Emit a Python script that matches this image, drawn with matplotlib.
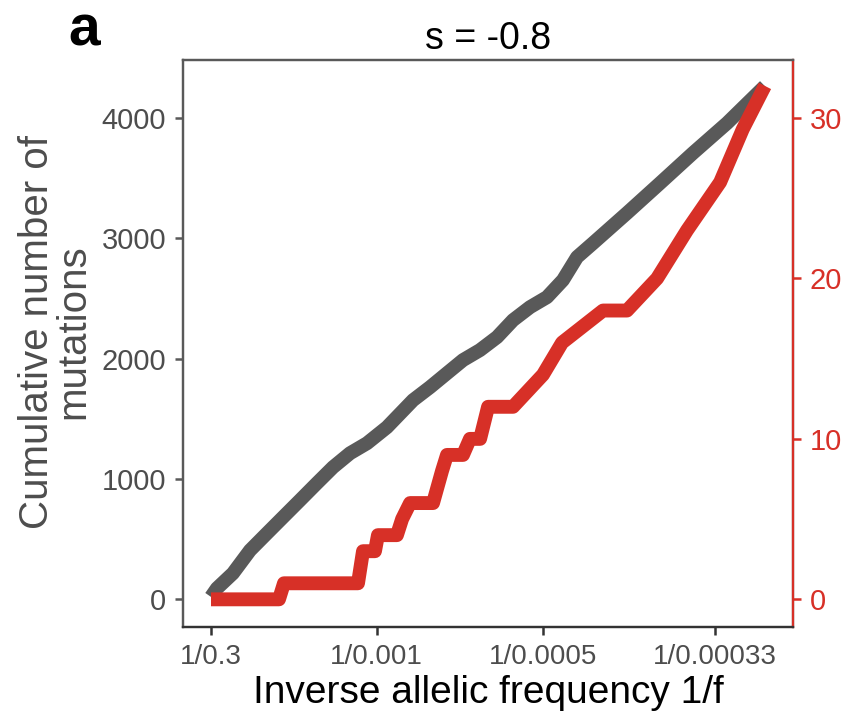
import matplotlib
matplotlib.use("Agg")
import matplotlib.pyplot as plt
import numpy as np

plt.rcParams['font.family'] = ['Liberation Sans', 'DejaVu Sans']

# ---- data ----
grey_x = [3.33, 39, 135, 238, 340, 436, 538, 640, 737, 839, 941, 1061, 1218, 1320,
          1422, 1518, 1620, 1723, 1819, 1921, 2023, 2119, 2204, 2300, 2504, 2703,
          2901, 3106, 3333]
grey_y = [20, 91, 216, 407, 549, 682, 823, 965, 1098, 1214, 1297, 1430, 1655, 1763,
          1879, 1988, 2071, 2179, 2320, 2428, 2511, 2653, 2844, 2960, 3210, 3459,
          3709, 3958, 4265]

red_x = [3.33, 412, 442, 887, 917, 989, 1007, 1121, 1152, 1200, 1338, 1392, 1422,
         1518, 1560, 1621, 1669, 1819, 1999, 2114, 2360, 2504, 2685, 2865, 3064,
         3200, 3333]
red_y = [0, 0, 1, 1, 3, 3, 4, 4, 5, 6, 6, 8, 9, 9, 10, 10, 12, 12, 14, 16, 18, 18,
         20, 23, 26, 29.3, 32]

xtick_vals = [1 / 0.3, 1 / 0.001, 1 / 0.0005, 1 / 0.00033]
xtick_labels = ["1/0.3", "1/0.001", "1/0.0005", "1/0.00033"]
left_ticks = [0, 1000, 2000, 3000, 4000]
right_ticks = [0, 10, 20, 30]

GREY = "#595959"
RED = "#D73027"
TXT = "#4D4D4D"

fig = plt.figure(figsize=(8.48, 7.2), dpi=100)
ax = fig.add_axes([183 / 848, 1 - 627 / 720, (793 - 183) / 848, (627 - 60) / 720])
ax2 = ax.twinx()

ylo, yhi = -230, 4482
ax.set_xlim(-165, 3502)
ax.set_ylim(ylo, yhi)
scale = 30 / 4000
ax2.set_ylim(ylo * scale, yhi * scale)

ax.plot(grey_x, grey_y, color=GREY, lw=10, solid_capstyle='butt',
        solid_joinstyle='round', zorder=3)
ax2.plot(red_x, red_y, color=RED, lw=10, solid_capstyle='butt',
         solid_joinstyle='round', zorder=3)

ax.set_xticks(xtick_vals)
ax.set_xticklabels(xtick_labels)
ax.set_yticks(left_ticks)
ax.set_yticklabels([str(v) for v in left_ticks])
ax2.set_yticks(right_ticks)
ax2.set_yticklabels([str(v) for v in right_ticks])

ax.tick_params(axis='x', labelsize=20, length=6, width=1.8, colors="#333333",
               labelcolor=TXT, pad=6)
ax.tick_params(axis='y', labelsize=21, length=6, width=1.8, colors=GREY,
               labelcolor=TXT, pad=6)
ax2.tick_params(axis='y', labelsize=21, length=6, width=1.8, colors=RED,
                labelcolor=RED, pad=6)

for a in (ax, ax2):
    for s in a.spines.values():
        s.set_linewidth(1.6)
ax.spines['left'].set_color(GREY)
ax.spines['bottom'].set_color("#333333")
ax.spines['top'].set_color(GREY)
ax2.spines['top'].set_color(GREY)
ax2.spines['right'].set_color(RED)
ax2.spines['left'].set_color(GREY)
ax2.spines['bottom'].set_color("#333333")

ax.set_title("s = -0.8", fontsize=27, color="black", pad=8)
ax.set_xlabel("Inverse allelic frequency 1/f", fontsize=28, color="black", labelpad=4)

fig.text(55 / 848, 1 - 332 / 720, "Cumulative number of\nmutations", rotation=90,
         ha='center', va='center', fontsize=29, color=TXT, multialignment='center',
         linespacing=0.95)
fig.text(68 / 848, 1 - 45 / 720, "a", fontsize=41, fontweight='bold', color='black',
         ha='left', va='baseline')

fig.savefig("out.png", dpi=100)
